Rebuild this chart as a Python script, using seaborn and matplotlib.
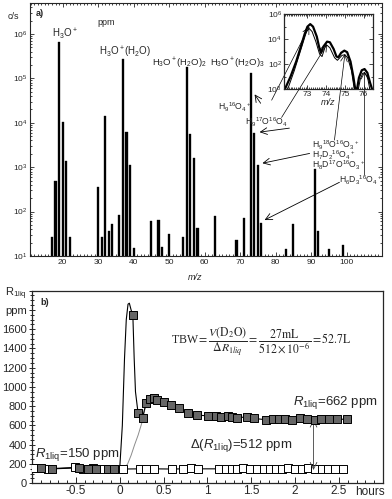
import matplotlib
matplotlib.use('Agg')
import matplotlib.pyplot as plt
from matplotlib.ticker import MultipleLocator, LogLocator, NullFormatter
import pandas as pd
import seaborn as sns

# painel a) espectro de massa (m/z, contagens por segundo)
mz = [17, 18, 19, 20, 21, 22, 30, 31, 32, 33, 34, 36, 37, 38, 39, 40,
      45, 47, 48, 50, 54, 55, 56, 57, 58, 63, 69, 71, 73, 74, 75, 76,
      83, 85, 91, 92, 95, 99]
cps = [27, 490, 6.5e5, 1.05e4, 1380, 27, 360, 27, 1.4e4, 37, 52, 84, 2.7e5, 6200, 1100, 15,
       61, 65, 16, 32, 27, 1.8e5, 5700, 1600, 42, 79, 23, 70, 1.3e5, 5900, 1100, 54,
       14, 52, 890, 37, 14, 18]

# detalhe (inset) - duas curvas do pico 73-76
ins_mz = [71.8, 72.1, 72.4, 72.65, 72.85, 73.0, 73.15, 73.3, 73.5, 73.62, 73.72, 73.85,
          74.05, 74.2, 74.4, 74.55, 74.65, 74.8, 74.97, 75.12, 75.3, 75.45, 75.55, 75.65,
          75.75, 75.9, 76.05, 76.2, 76.35, 76.45]
ins_thick = [1, 10, 160, 2.5e3, 2.5e4, 1e5, 1.6e5, 1e5, 1.6e4, 2.5e3, 8e2, 2.5e3,
             6.3e3, 5.6e3, 1.6e3, 4e2, 3.5e2, 8e2, 1.2e3, 9e2, 1.6e2, 10, 1, 1,
             8, 32, 40, 20, 3, 1]
ins_mz2 = [71.95, 72.3, 72.7, 72.95, 73.1, 73.25, 73.45, 73.65, 73.78, 73.95, 74.05, 74.2,
           74.45, 74.6, 74.85, 75.0, 75.15, 75.35, 75.5, 75.72, 75.82, 75.95, 76.05, 76.2, 76.33]
ins_thin = [1, 30, 2.5e3, 4e4, 7e4, 4e4, 6.3e3, 630, 400, 2.5e3, 3.2e3, 2e3,
            320, 200, 500, 560, 320, 30, 1, 1, 6, 18, 20, 10, 1]

# painel b) R1liq (ppm) vs tempo (horas)
t_gray = [-0.90, -0.77, -0.46, -0.36, -0.27, -0.13, -0.06,
          0.15, 0.21, 0.26, 0.30, 0.35, 0.39, 0.43, 0.50, 0.58, 0.68, 0.78, 0.88,
          1.01, 1.10, 1.16, 1.23, 1.28, 1.34, 1.45, 1.53, 1.67, 1.75, 1.82, 1.89,
          1.96, 2.06, 2.14, 2.23, 2.30, 2.39, 2.48, 2.59]
r_gray = [158, 150, 160, 150, 145, 148, 150,
          1744, 725, 680, 829, 870, 881, 863, 839, 818, 777, 732, 708,
          700, 700, 690, 700, 690, 680, 690, 673, 660, 665, 670, 665,
          656, 675, 670, 660, 665, 665, 665, 665]
# pontos só da linha (pico logo após a dose)
t_pico = [0.0, 0.03, 0.055, 0.075, 0.095, 0.11, 0.13, 0.165, 0.18]
r_pico = [150, 600, 1300, 1700, 1860, 1870, 1800, 1300, 950]

t_white = [-0.97, -0.82, -0.51, -0.42, -0.31, -0.20, -0.10, -0.02, 0.04, 0.23, 0.30, 0.39,
           0.60, 0.72, 0.81, 0.89, 1.13, 1.21, 1.28, 1.34, 1.41, 1.49, 1.56, 1.64,
           1.71, 1.78, 1.85, 1.92, 2.00, 2.08, 2.15, 2.23, 2.31, 2.38, 2.46, 2.55]
r_white = [160, 150, 165, 150, 155, 148, 150, 150, 148, 150, 150, 150,
           148, 150, 155, 150, 150, 150, 152, 150, 155, 148, 152, 150,
           148, 152, 150, 158, 150, 152, 155, 150, 150, 148, 150, 152]

t_fina = [0.05, 0.09, 0.13, 0.17, 0.21, 0.25, 0.29, 0.31]
r_fina = [155, 200, 290, 400, 500, 620, 780, 830]

sns.set_theme(style='ticks')
plt.rcParams['font.family'] = ['Liberation Sans', 'DejaVu Sans']
plt.rcParams['mathtext.fontset'] = 'custom'
plt.rcParams['mathtext.rm'] = 'Liberation Sans'
plt.rcParams['mathtext.it'] = 'Liberation Sans:italic'
plt.rcParams['mathtext.bf'] = 'Liberation Sans:bold'

fig = plt.figure(figsize=(3.92, 4.99), dpi=100)
ax1 = fig.add_axes([0.0765, 0.487, 0.898, 0.507])
ax2 = fig.add_axes([0.0816, 0.0315, 0.895, 0.386])
axins = fig.add_axes([0.7245, 0.8216, 0.227, 0.150])

# ---- painel a
ax1.set_yscale('log')
df_a = pd.DataFrame({'mz': mz, 'cps': cps})
sns.barplot(data=df_a, x='mz', y='cps', native_scale=True, width=0.6,
            color='black', errorbar=None, ax=ax1, saturation=1,
            edgecolor='black', linewidth=0.25)
ax1.set_xlim(10.8, 110)
ax1.set_ylim(10, 5e6)
ax1.set_xlabel('')
ax1.set_ylabel('')
ax1.set_xticks([20, 30, 40, 50, 60, 70, 80, 90, 100])
ax1.xaxis.set_minor_locator(MultipleLocator(1))
ax1.set_yticks([1e1, 1e2, 1e3, 1e4, 1e5, 1e6])
ax1.yaxis.set_minor_locator(LogLocator(subs=range(2, 10)))
ax1.yaxis.set_minor_formatter(NullFormatter())
ax1.tick_params(which='both', direction='in', top=True, right=True, labelsize=6,
                width=0.6, pad=2)
ax1.tick_params(which='major', length=3)
ax1.tick_params(which='minor', length=1.5)
for s in ax1.spines.values():
    s.set_linewidth(0.8)

ax1.text(0.015, 0.975, 'a)', transform=ax1.transAxes, fontsize=6.5, va='top',
         fontweight='bold')
fig.text(0.035, 0.966, 'c/s', fontsize=6.5, va='center', ha='center')
ax1.text(32.4, 10**6.26, 'ppm', fontsize=6.5, ha='center', va='center')
ax1.text(20.6, 10**5.99, r'H$_3$O$^+$', fontsize=7, ha='center', va='center')
ax1.text(37.7, 10**5.58, r'H$_3$O$^+$(H$_2$O)', fontsize=7, ha='center', va='center')
ax1.text(53.0, 10**5.36, r'H$_3$O$^+$(H$_2$O)$_2$', fontsize=6.8, ha='center', va='center')
ax1.text(69.3, 10**5.36, r'H$_3$O$^+$(H$_2$O)$_3$', fontsize=6.8, ha='center', va='center')
fig.text(195 / 392, 1 - 277 / 499, 'm/z', fontsize=6.5, style='italic',
         ha='center', va='center')

rotulos = [
    (63.7, 4.35, r'H$_9$$^{16}$O$_4$$^+$'),
    (71.5, 4.01, r'H$_9$$^{17}$O$^{16}$O$_4$'),
    (90.4, 3.49, r'H$_9$$^{18}$O$^{16}$O$_3$$^+$'),
    (90.4, 3.27, r'H$_7$D$_2$$^{16}$O$_4$$^+$'),
    (90.4, 3.04, r'H$_8$D$^{17}$O$^{16}$O$_3$$^+$'),
    (98.0, 2.71, r'H$_6$D$_3$$^{16}$O$_4$$^+$'),
]
for x, ly, txt in rotulos:
    ax1.text(x, 10**ly, txt, fontsize=6.2, ha='left', va='center')

seta = dict(arrowstyle='->', lw=0.6, color='black', shrinkA=0, shrinkB=0)
linha = dict(arrowstyle='->', lw=0.5, color='black', shrinkA=0, shrinkB=0)
# setas para as barras
ax1.annotate('', xy=(74.1, 10**4.64), xytext=(75.8, 10**4.44), arrowprops=seta)
ax1.annotate('', xy=(75.5, 10**3.79), xytext=(83.9, 10**3.88), arrowprops=seta)
ax1.annotate('', xy=(76.3, 10**3.09), xytext=(89.6, 10**3.31), arrowprops=seta)
ax1.annotate('', xy=(76.9, 10**1.81), xytext=(98.0, 10**2.66), arrowprops=seta)
# linhas para os picos do detalhe
ax1.annotate('', xy=(73.1, 10**5.0), xycoords=axins.transData,
             xytext=(78.9, 10**4.51), textcoords=ax1.transData, arrowprops=linha)
ax1.annotate('', xy=(74.05, 10**3.6), xycoords=axins.transData,
             xytext=(81.7, 10**4.12), textcoords=ax1.transData, arrowprops=linha)
ax1.annotate('', xy=(75.0, 10**2.8), xycoords=axins.transData,
             xytext=(96.6, 10**3.61), textcoords=ax1.transData, arrowprops=linha)
ax1.annotate('', xy=(76.05, 10**1.4), xycoords=axins.transData,
             xytext=(105.1, 10**2.82), textcoords=ax1.transData, arrowprops=linha)

# ---- detalhe
axins.set_yscale('log')
sns.lineplot(x=ins_mz, y=ins_thick, color='black', lw=1.6, sort=False,
             estimator=None, ax=axins)
sns.lineplot(x=ins_mz2, y=ins_thin, color='black', lw=0.7, sort=False,
             estimator=None, ax=axins)
axins.set_xlim(71.75, 76.5)
axins.set_ylim(1, 1e6)
axins.patch.set_alpha(0)
axins.set_xticks([73, 74, 75, 76])
axins.xaxis.set_minor_locator(MultipleLocator(0.1))
axins.set_yticks([1, 1e2, 1e4, 1e6])
axins.set_yticks([10, 1e3, 1e5], minor=True)
axins.yaxis.set_minor_formatter(NullFormatter())
axins.tick_params(which='both', direction='in', top=True, right=True, labelsize=6,
                  width=0.6, pad=1.5)
axins.tick_params(which='major', length=3)
axins.tick_params(which='minor', length=1.5)
axins.set_xlabel('m/z', fontsize=6.5, style='italic', labelpad=0)
for s in axins.spines.values():
    s.set_linewidth(0.9)

# ---- painel b
df_g = pd.DataFrame({'t': t_gray + t_pico, 'r': r_gray + r_pico}).sort_values('t')
sns.lineplot(x=t_fina, y=r_fina, color='0.55', lw=0.7, estimator=None, ax=ax2)
sns.lineplot(data=df_g, x='t', y='r', color='black', lw=0.8, estimator=None, ax=ax2)
sns.lineplot(x=t_white, y=r_white, color='black', lw=0.8, estimator=None, ax=ax2)
sns.scatterplot(x=t_white, y=r_white, marker='s', s=34, color='white',
                edgecolor='black', linewidth=0.7, ax=ax2, zorder=3)
sns.scatterplot(x=t_gray, y=r_gray, marker='s', s=34, color='0.4',
                edgecolor='black', linewidth=0.7, ax=ax2, zorder=4)

ax2.set_xlim(-1.0, 3.0)
ax2.set_ylim(0, 2000)
ax2.set_xlabel('')
ax2.set_ylabel('')
ax2.set_xticks([-0.5, 0, 0.5, 1, 1.5, 2, 2.5])
ax2.set_xticklabels(['-0.5', '0', '0.5', '1', '1.5', '2', '2.5'])
ax2.xaxis.set_minor_locator(MultipleLocator(0.1))
ax2.set_yticks(range(0, 2001, 200))
ax2.set_yticklabels([str(v) for v in range(0, 1601, 200)] + ['ppm', r'R$_{\rm 1liq}$'])
ax2.yaxis.set_minor_locator(MultipleLocator(50))
ax2.tick_params(axis='y', which='both', labelsize=8, width=0.7, pad=1)
ax2.tick_params(axis='x', which='both', labelsize=8.5, width=0.7, pad=1.5)
ax2.tick_params(axis='y', which='major', direction='inout', length=5)
ax2.tick_params(axis='y', which='minor', direction='inout', length=2.5)
ax2.tick_params(axis='x', which='major', direction='in', length=4)
ax2.tick_params(axis='x', which='minor', direction='in', length=2)
for s in ax2.spines.values():
    s.set_linewidth(0.9)

ax2.text(0.025, 0.96, 'b)', transform=ax2.transAxes, fontsize=6.5, va='top',
         fontweight='bold')
ax2.text(0.963, -0.062, 'hours', transform=ax2.transAxes, fontsize=8.5,
         ha='center', va='baseline')
ax2.text(1.62, 1475,
         r'TBW$=\dfrac{V(\mathrm{D_2O})}{\Delta R_{1liq}}=\dfrac{27\mathrm{mL}}{512\times10^{-6}}=52.7\mathrm{L}$',
         fontsize=8.5, family='Liberation Serif', math_fontfamily='stix',
         ha='center', va='center')
ax2.text(-0.97, 295, r'$R_{\rm 1liq}$=150 ppm', fontsize=9.5, ha='left', va='center')
ax2.text(1.98, 840, r'$R_{\rm 1liq}$=662 ppm', fontsize=9.5, ha='left', va='center')
ax2.text(0.8, 397, r'$\Delta$($R_{\rm 1liq}$)=512 ppm', fontsize=9.5, ha='left',
         va='center')
ax2.annotate('', xy=(2.21, 662), xytext=(2.21, 138),
             arrowprops=dict(arrowstyle='<->', lw=0.6, color='0.25',
                             shrinkA=0, shrinkB=0))

fig.savefig('out.png', dpi=100)
